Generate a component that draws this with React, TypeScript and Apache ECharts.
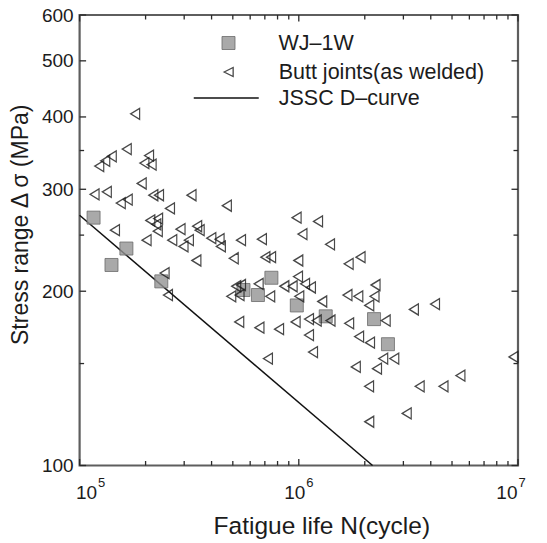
import React, { useEffect, useRef } from "react";
import * as echarts from "echarts";

// WJ-1W specimens (N cycles, stress range MPa)
const wjN = [1.158e5, 1.635e5, 1.398e5, 2.359e5, 5.593e5, 6.51e5, 7.499e5, 9.793e5, 1.327e6, 2.204e6, 2.551e6];
const wjS = [268, 237, 222, 208, 201, 197, 211, 189, 181, 179, 162];

// Butt joints (as welded)
const buttN = [
  1.792e5, 1.641e5, 1.402e5, 1.309e5, 1.229e5, 2.074e5, 1.975e5, 2.131e5, 1.92e5, 1.17e5,
  1.331e5, 1.541e5, 1.658e5, 2.17e5, 2.303e5, 2.584e5, 3.24e5, 4.697e5, 1.45e5, 2.102e5,
  2.281e5, 2.239e5, 2.274e5, 2.021e5, 2.647e5, 2.887e5, 2.979e5, 3.152e5, 3.439e5, 3.53e5,
  3.99e5, 4.351e5, 4.411e5, 5.45e5, 6.788e5, 3.41e5, 5.049e5, 7.041e5, 7.475e5, 9.947e5,
  9.772e5, 1.224e6, 1.039e6, 1.388e6, 2.442e5, 2.53e5, 5.182e5, 5.45e5, 4.919e5, 5.365e5,
  6.559e5, 7.405e5, 8.592e5, 9.371e5, 9.917e5, 1.005e6, 1.068e6, 1.136e6, 1.279e6, 1.667e6,
  1.868e6, 2.239e6, 2.215e6, 2.096e6, 2.491e6, 3.35e6, 4.182e6, 5.349e5, 6.614e5, 8.128e5,
  9.671e5, 1.113e6, 1.207e6, 1.395e6, 1.697e6, 1.113e6, 1.161e6, 7.231e5, 1.884e6, 2.113e6,
  2.427e6, 2.726e6, 1.82e6, 2.274e6, 9.539e6, 5.461e6, 2.092e6, 3.559e6, 4.571e6, 3.107e6,
  2.096e6, 1.688e6, 1.913e6,
];
const buttS = [
  405, 352, 342, 336, 329, 343, 333, 331, 307, 294,
  297, 284, 288, 293, 293, 278, 293, 281, 255, 265,
  267, 261, 254, 245, 245, 256, 239, 245, 259, 255,
  247, 246, 239, 245, 246, 226, 228, 229, 229, 226,
  268, 264, 251, 241, 215, 197, 204, 205, 196, 197,
  206, 196, 204, 204, 212, 196, 206, 203, 192, 197,
  196, 205, 196, 189, 178, 186, 190, 177, 173, 172,
  177, 179, 178, 178, 176, 168, 157, 153, 167, 163,
  153, 153, 148, 147, 154, 143, 137, 137, 137, 123,
  119, 223, 229,
];

// JSSC D-curve end points
const dCurveN = [1e5, 2.17e6];
const dCurveS = [270.5, 100];

// ticks
const xMajor = [1e5, 1e6, 1e7];
const xMinor = [2e5, 3e5, 4e5, 5e5, 6e5, 7e5, 8e5, 9e5, 2e6, 3e6, 4e6, 5e6, 6e6, 7e6, 8e6, 9e6];
const yMajor = [100, 200, 300, 400, 500, 600];
const yMinor = [150, 250, 350];

const FONT = "Liberation Sans, Arial, Helvetica, sans-serif";
const TXT = "#1c1c1c";
const BORDER = "#5e5e5e";
const SQ = "path://M0,0H10V10H0Z";
const TRI = "path://M0,5L10,0L10,10Z";

export default function App() {
  const ref = useRef<HTMLDivElement>(null);
  useEffect(() => {
    document.body.style.margin = "0";
    if (!ref.current) return;
    const chart = echarts.init(ref.current, undefined, { renderer: "svg" });

    const X0 = 1e5, X1 = 1e7, Y0 = 100, Y1 = 600;
    const MAJ = 6.5, MIN = 4.5;

    // tick marks: [x, y, direction, length]
    const xTickData: number[][] = [];
    xMajor.forEach((v) => { xTickData.push([v, Y0, -1, MAJ]); xTickData.push([v, Y1, 1, MAJ]); });
    xMinor.forEach((v) => { xTickData.push([v, Y0, -1, MIN]); xTickData.push([v, Y1, 1, MIN]); });
    const yTickData: number[][] = [];
    yMajor.forEach((v) => { yTickData.push([X0, v, 1, MAJ]); yTickData.push([X1, v, -1, MAJ]); });
    yMinor.forEach((v) => { yTickData.push([X0, v, 1, MIN]); yTickData.push([X1, v, -1, MIN]); });

    const tickSeries = (name: string, data: number[][], vertical: boolean) => ({
      name,
      type: "custom",
      coordinateSystem: "cartesian2d",
      silent: true,
      clip: false,
      data,
      z: 10,
      renderItem: (_p: any, api: any) => {
        const pt = api.coord([api.value(0), api.value(1)]);
        const d = Number(api.value(2)) * Number(api.value(3));
        return {
          type: "line",
          shape: vertical
            ? { x1: pt[0], y1: pt[1], x2: pt[0], y2: pt[1] + d }
            : { x1: pt[0], y1: pt[1], x2: pt[0] + d, y2: pt[1] },
          style: { stroke: "#2a2a2a", lineWidth: 1.3 },
        };
      },
    });

    const legendText = { fontSize: 21.5, fontFamily: FONT, color: TXT, lineHeight: 22 };
    const supStyle = { fontSize: 13, fontFamily: FONT, color: TXT, verticalAlign: "top", lineHeight: 26 };
    const baseStyle = { fontSize: 19, fontFamily: FONT, color: TXT, verticalAlign: "bottom", lineHeight: 26 };

    chart.setOption({
      animation: false,
      backgroundColor: "#ffffff",
      grid: {
        left: 78,
        right: 29,
        top: 15,
        bottom: 71.5,
        show: true,
        borderColor: BORDER,
        borderWidth: 2.2,
        backgroundColor: "transparent",
      },
      legend: [
        {
          data: ["WJ–1W"],
          orient: "horizontal",
          padding: 0,
          selectedMode: false,
          left: 221.5,
          top: 32,
          itemWidth: 13,
          itemHeight: 13,
          itemStyle: { borderWidth: 1, borderColor: "#6a6a6a" },
          textStyle: { ...legendText, padding: [0, 0, 0, 38.5] },
        },
        {
          data: ["Butt joints(as welded)"],
          orient: "horizontal",
          padding: 0,
          selectedMode: false,
          left: 223.5,
          top: 61,
          itemWidth: 9,
          itemHeight: 11,
          itemStyle: { borderWidth: 1.3, borderColor: "#1a1a1a" },
          textStyle: { ...legendText, padding: [0, 0, 0, 40.5] },
        },
        {
          data: ["JSSC D–curve"],
          orient: "horizontal",
          padding: 0,
          selectedMode: false,
          left: 193,
          top: 87,
          itemWidth: 65,
          itemHeight: 12,
          itemStyle: { opacity: 0 },
          lineStyle: { color: "#111", width: 1.5 },
          textStyle: { ...legendText, padding: [0, 0, 0, 15] },
        },
      ],
      xAxis: {
        type: "log",
        logBase: 10,
        min: X0,
        max: X1,
        position: "bottom",
        axisLine: { show: false },
        axisTick: { show: false },
        minorTick: { show: false },
        splitLine: { show: false },
        axisLabel: {
          show: true,
          customValues: xMajor,
          margin: 10,
          formatter: (v: number) => {
            const e = Math.round(Math.log10(v));
            if (e === 5) return `{bl|10}{s|${e}}`;
            if (e === 7) return `{b|10}{sr|${e}}`;
            return `{b|10}{s|${e}}`;
          },
          rich: {
            b: baseStyle,
            bl: { ...baseStyle, padding: [0, 0, 0, 22] },
            s: { ...supStyle, padding: [0, 0, 0, 1] },
            sr: { ...supStyle, padding: [0, 14, 0, 1] },
          },
        },
        name: "Fatigue life N(cycle)",
        nameLocation: "middle",
        nameGap: 47.5,
        nameTextStyle: { fontSize: 24.5, fontFamily: FONT, color: TXT, padding: [0, 0, 0, 46] },
      },
      yAxis: {
        type: "log",
        logBase: 10,
        min: Y0,
        max: Y1,
        position: "left",
        axisLine: { show: false },
        axisTick: { show: false },
        minorTick: { show: false },
        splitLine: { show: false },
        axisLabel: {
          show: true,
          customValues: yMajor,
          margin: 6,
          fontSize: 19,
          fontFamily: FONT,
          color: TXT,
          formatter: (v: number) => String(Math.round(v)),
        },
        name: "Stress range Δ σ (MPa)",
        nameLocation: "middle",
        nameGap: 43.75,
        nameRotate: 90,
        nameTextStyle: { fontSize: 23, fontFamily: FONT, color: TXT, padding: [0, 0, 0, 31] },
      },
      series: [
        {
          name: "WJ–1W",
          type: "scatter",
          symbol: SQ,
          symbolSize: 13,
          itemStyle: { color: "#939393", borderColor: "#6a6a6a", borderWidth: 1 },
          data: wjN.map((n, i) => [n, wjS[i]]),
          z: 2,
        },
        {
          name: "Butt joints(as welded)",
          type: "scatter",
          symbol: TRI,
          symbolSize: [9, 11],
          itemStyle: { color: "rgba(255,255,255,0)", borderColor: "#1a1a1a", borderWidth: 1.3 },
          data: buttN.map((n, i) => [n, buttS[i]]),
          z: 3,
        },
        {
          name: "JSSC D–curve",
          type: "line",
          symbol: "none",
          lineStyle: { color: "#111", width: 1.5 },
          itemStyle: { color: "#111" },
          data: dCurveN.map((n, i) => [n, dCurveS[i]]),
          z: 1,
        },
        tickSeries("xTicks", xTickData, true),
        tickSeries("yTicks", yTickData, false),
      ],
    });
    return () => chart.dispose();
  }, []);
  return <div ref={ref} style={{ width: 547, height: 543 }} />;
}
